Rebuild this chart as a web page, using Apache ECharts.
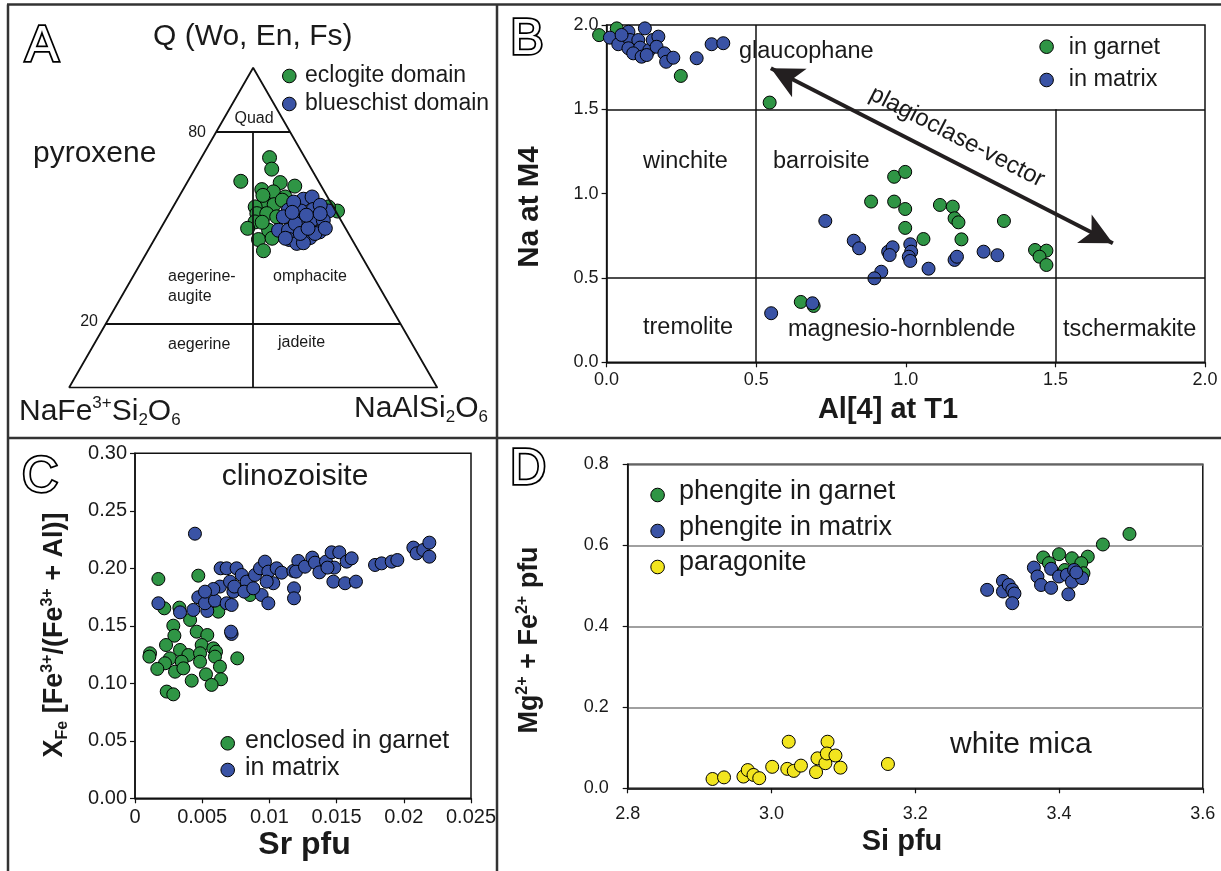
<!DOCTYPE html>
<html><head><meta charset="utf-8">
<script src="https://cdn.jsdelivr.net/npm/echarts@6/dist/echarts.min.js"></script>
<style>html,body{margin:0;padding:0;background:#fff}#c{width:1221px;height:871px}</style>
</head><body><div id="c"></div>
<script>
// ---------- Panel A: pyroxene ternary (Q %, Jd %) ----------
const eclogiteQ  = [71.9,68.3,64.5,64.1,63.0,61.9,61.2,59.6,58.0,56.5,57.2,54.4,54.4,53.4,51.8,49.8,49.2,46.3,42.8,55.2,56.5,60.1,58.6,55.5,51.7,46.7];
const eclogiteJd = [18.5,20.9,14.4,25.3,29.8,21.4,24.9,28.9,24.1,22.3,27.1,23.8,26.5,29.7,24.6,23.6,29.6,28.3,31.4,45.3,42.2,22.6,28.6,32.3,26.6,31.8];
const blueschistQ  = [58.9,59.6,55.5,55.2,55.7,55.2,57.0,51.3,52.6,52.3,49.2,49.2,48.7,46.9,46.3,45.1,45.3,51.3,53.4,58.0,48.2,48.2,54.4,49.8,46.7,49.8,53.9,54.8];
const blueschistJd = [34.2,36.2,31.8,35.4,38.5,42.9,39.7,37.6,39.8,42.9,32.3,35.0,43.7,42.0,36.7,39.3,41.0,35.8,31.5,32.0,42.7,38.7,41.0,40.0,35.4,44.7,37.5,33.2];

// ---------- Panel B: amphibole [Al(IV) at T1, Na at M4] ----------
const amphGarnet = [[-0.025,1.94],[0.034,1.98],[0.248,1.698],[0.545,1.54],[0.961,1.10],[0.998,1.129],[0.884,0.953],[0.961,0.953],[0.998,0.909],[1.114,0.933],[1.157,0.923],[1.163,0.854],[1.176,0.830],[1.328,0.838],[0.998,0.797],[1.059,0.731],[1.186,0.729],[1.432,0.666],[1.470,0.662],[1.447,0.626],[1.470,0.577],[0.649,0.358],[0.692,0.334]];
const amphMatrix = [[0.011,1.925],[0.039,1.886],[0.073,1.960],[0.078,1.911],[0.073,1.862],[0.106,1.911],[0.128,1.980],[0.112,1.866],[0.089,1.832],[0.117,1.812],[0.143,1.852],[0.154,1.911],[0.173,1.931],[0.167,1.871],[0.193,1.832],[0.199,1.782],[0.223,1.806],[0.301,1.803],[0.351,1.886],[0.390,1.892],[0.050,1.941],[0.134,1.822],
  [0.731,0.838],[0.826,0.721],[0.844,0.676],[0.941,0.656],[0.956,0.682],[0.946,0.636],[1.015,0.700],[1.018,0.656],[1.010,0.626],[1.015,0.601],[1.076,0.555],[0.918,0.537],[0.895,0.498],[1.163,0.607],[1.171,0.626],[1.260,0.656],[1.306,0.635],[0.688,0.350],[0.550,0.291]];

// ---------- Panel C: clinozoisite [Sr pfu, XFe] ----------
const czoGarnet = [[0.00174,0.1907],[0.00471,0.1936],[0.00218,0.1652],[0.0033,0.1658],[0.0041,0.1551],[0.00285,0.1501],[0.00459,0.1449],[0.00538,0.1420],[0.00293,0.1414],[0.00231,0.1333],[0.00335,0.1290],[0.00397,0.1246],[0.00496,0.1333],[0.00484,0.1261],[0.00583,0.1304],[0.00603,0.1275],[0.00112,0.1261],[0.00107,0.1232],[0.0026,0.1217],[0.00347,0.1188],[0.00223,0.1174],[0.00484,0.1188],[0.00595,0.1232],[0.00761,0.1217],[0.00632,0.1145],[0.00166,0.1125],[0.00298,0.1101],[0.0036,0.113],[0.00528,0.1078],[0.0064,0.1035],[0.00422,0.1023],[0.0057,0.0986],[0.00236,0.0928],[0.00285,0.0904],[0.0062,0.1623],[0.00856,0.1768]];
const czoMatrix = [[0.00446,0.2301],[0.00174,0.1696],[0.00335,0.1617],[0.00434,0.1638],[0.00471,0.1748],[0.00538,0.1629],[0.00521,0.1696],[0.00595,0.1719],[0.00632,0.1841],[0.00583,0.1820],[0.00637,0.2000],[0.00682,0.2000],[0.00756,0.2000],[0.00707,0.1884],[0.00732,0.1797],[0.00682,0.1696],[0.00719,0.1681],[0.00739,0.1841],[0.00794,0.1942],[0.00831,0.1884],[0.00813,0.1797],[0.00893,0.1942],[0.0093,0.2000],[0.00967,0.2058],[0.00992,0.1971],[0.00942,0.1768],[0.00992,0.1696],[0.0088,0.1826],[0.01029,0.1870],[0.0098,0.1884],[0.01054,0.2000],[0.01091,0.1962],[0.01178,0.1977],[0.01183,0.1826],[0.01183,0.1739],[0.01215,0.2064],[0.01198,0.1971],[0.01265,0.2014],[0.01319,0.2093],[0.01339,0.2049],[0.01372,0.1965],[0.01421,0.2058],[0.01463,0.2139],[0.0152,0.2139],[0.01476,0.1884],[0.01483,0.2006],[0.01432,0.2006],[0.01563,0.1870],[0.01644,0.1884],[0.01575,0.2058],[0.01612,0.2087],[0.01786,0.2029],[0.01835,0.2043],[0.0191,0.2058],[0.01952,0.2072],[0.02071,0.2180],[0.02096,0.2130],[0.02145,0.2159],[0.0219,0.2223],[0.0219,0.2101],[0.00719,0.1429],[0.00714,0.1449],[0.00521,0.1797]];

// ---------- Panel D: white mica [Si pfu, Mg+Fe2+ pfu] ----------
const phenGarnet = [[3.498,0.628],[3.461,0.602],[3.440,0.572],[3.418,0.568],[3.400,0.578],[3.378,0.570],[3.386,0.556],[3.431,0.556],[3.434,0.531],[3.408,0.539]];
const phenMatrix = [[3.300,0.490],[3.322,0.512],[3.322,0.486],[3.330,0.502],[3.335,0.490],[3.338,0.481],[3.335,0.457],[3.365,0.545],[3.370,0.523],[3.375,0.502],[3.389,0.542],[3.389,0.495],[3.400,0.523],[3.411,0.527],[3.421,0.539],[3.418,0.510],[3.432,0.519],[3.413,0.479],[3.424,0.533]];
const paragonite = [[2.918,0.023],[2.934,0.027],[2.961,0.029],[2.967,0.045],[2.975,0.033],[2.983,0.025],[3.001,0.053],[3.022,0.048],[3.024,0.115],[3.031,0.043],[3.041,0.056],[3.062,0.040],[3.064,0.074],[3.075,0.062],[3.078,0.115],[3.077,0.086],[3.089,0.081],[3.096,0.051],[3.162,0.060]];

// ---------- annotation constants ----------
const amphFieldLines = [[[0,1.5],[2,1.5]],[[0,0.5],[2,0.5]],[[0.5,0],[0.5,2]],[[1.5,0],[1.5,1.5]]];
const plagVector = [[0.549,1.743],[1.692,0.706]];
const ternaryLines = [[[80,0],[80,20]],[[20,0],[20,80]],[[80,10],[0,50]]]; // [Q,Jd] pairs

const GREEN = '#2f9545', BLUE = '#3a53a5', YELLOW = '#f2e51f';
const FONT = "'Liberation Sans', Arial, Helvetica, sans-serif";
const TXT = '#1a1a1a';

function tern(q, jd) { return [jd + q / 2, q]; }

const chart = echarts.init(document.getElementById('c'), null, {renderer: 'canvas'});

function dot(color, size) {
  return { symbol: 'circle', symbolSize: size, clip: false,
    itemStyle: { color: color, borderColor: '#000', borderWidth: 1, opacity: 1 } };
}
function axisBase() {
  return {
    type: 'value',
    axisLine: { show: true, onZero: false, lineStyle: { color: '#111', width: 1.5 } },
    axisTick: { show: true, length: 5, lineStyle: { color: '#111', width: 1.2 } },
    splitLine: { show: false }
  };
}
function T(x, y, text, fs, opts) {
  opts = opts || {};
  return { type: 'text', x: x, y: y, rotation: opts.rot || 0, z: 100,
    style: { text: text, fontSize: fs, fontFamily: FONT, fontWeight: opts.bold ? 'bold' : 'normal',
      fill: opts.fill || TXT, align: opts.align || 'left', verticalAlign: 'middle',
      rich: opts.rich } };
}
function C(cx, cy, color, r) {
  return { type: 'circle', z: 100, shape: { cx: cx, cy: cy, r: r || 6.8 },
    style: { fill: color, stroke: '#000', lineWidth: 1 } };
}
function L(x1, y1, x2, y2) {
  return { type: 'line', z: 100, shape: { x1: x1, y1: y1, x2: x2, y2: y2 },
    style: { stroke: '#333', lineWidth: 2.5 } };
}
function letter(x, y, ch) {
  return { type: 'text', x: x, y: y, z: 100,
    style: { text: ch, fontSize: 50, fontFamily: FONT, fill: '#fff', stroke: '#000', lineWidth: 3.5,
      align: 'center', verticalAlign: 'middle' } };
}
function chemRich(base, bold) {
  const w = bold ? 'bold' : 'normal';
  const s = Math.round(base * 0.58);
  return {
    b: { fontSize: base, fontFamily: FONT, fontWeight: w, lineHeight: base + 4, fill: TXT, color: TXT },
    sup: { fontSize: s, fontFamily: FONT, fontWeight: w, lineHeight: s, verticalAlign: 'top', fill: TXT, color: TXT },
    sub: { fontSize: s, fontFamily: FONT, fontWeight: w, lineHeight: s, verticalAlign: 'bottom', fill: TXT, color: TXT }
  };
}
function lab(fs, margin, fmt) {
  return { fontSize: fs, color: TXT, fontFamily: FONT, margin: margin, formatter: fmt };
}

const option = {
  animation: false,
  backgroundColor: '#fff',
  textStyle: { fontFamily: FONT },
  grid: [
    { left: 69, top: 67.7, width: 368.3, height: 320, show: false },
    { left: 606.6, top: 25, width: 598.4, height: 337.3, show: true, borderColor: '#111', borderWidth: 1.5 },
    { left: 135, top: 453.3, width: 336, height: 345, show: true, borderColor: '#111', borderWidth: 1.5 },
    { left: 627.7, top: 464.3, width: 575.1, height: 324, show: true, borderColor: '#111', borderWidth: 1.5 }
  ],
  xAxis: [
    { gridIndex: 0, type: 'value', min: 0, max: 100, show: false },
    Object.assign(axisBase(), { gridIndex: 1, min: 0, max: 2, interval: 0.5, axisLabel: lab(18, 9, v => v.toFixed(1)) }),
    Object.assign(axisBase(), { gridIndex: 2, min: 0, max: 0.025, interval: 0.005,
      axisLabel: lab(20, 9, v => v === 0 ? '0' : String(parseFloat(v.toFixed(3)))) }),
    Object.assign(axisBase(), { gridIndex: 3, min: 2.8, max: 3.6, interval: 0.2, axisLabel: lab(18, 17, v => v.toFixed(1)) })
  ],
  yAxis: [
    { gridIndex: 0, type: 'value', min: 0, max: 100, show: false },
    Object.assign(axisBase(), { gridIndex: 1, min: 0, max: 2, interval: 0.5, axisLabel: lab(18, 8, v => v.toFixed(1)) }),
    Object.assign(axisBase(), { gridIndex: 2, min: 0, max: 0.3, interval: 0.05, axisLabel: lab(20, 8, v => v.toFixed(2)) }),
    Object.assign(axisBase(), { gridIndex: 3, min: 0, max: 0.8, interval: 0.2, axisLabel: lab(18, 19, v => v.toFixed(1)),
      splitLine: { show: true, lineStyle: { color: '#808080', width: 1.5 } } })
  ],
  series: [
    // Panel A triangle and field boundaries
    { type: 'line', xAxisIndex: 0, yAxisIndex: 0, silent: true, symbol: 'none',
      lineStyle: { color: '#111', width: 1.8 },
      data: [tern(0, 0), tern(100, 0), tern(0, 100), tern(0, 0)],
      markLine: { silent: true, symbol: ['none', 'none'], label: { show: false },
        lineStyle: { color: '#111', width: 1.8, type: 'solid' },
        data: ternaryLines.map(seg => [{ coord: tern(seg[0][0], seg[0][1]) }, { coord: tern(seg[1][0], seg[1][1]) }]) } },
    Object.assign({ type: 'scatter', name: 'eclogite domain', xAxisIndex: 0, yAxisIndex: 0,
      data: eclogiteQ.map((q, i) => tern(q, eclogiteJd[i])) }, dot(GREEN, 14)),
    Object.assign({ type: 'scatter', name: 'blueschist domain', xAxisIndex: 0, yAxisIndex: 0,
      data: blueschistQ.map((q, i) => tern(q, blueschistJd[i])) }, dot(BLUE, 14)),

    // Panel B field lines and plagioclase vector
    { type: 'line', xAxisIndex: 1, yAxisIndex: 1, silent: true, data: [],
      markLine: { silent: true, symbol: ['none', 'none'], label: { show: false },
        lineStyle: { color: '#111', width: 1.5, type: 'solid' },
        data: amphFieldLines.map(s => [{ coord: s[0] }, { coord: s[1] }]) } },
    { type: 'line', xAxisIndex: 1, yAxisIndex: 1, silent: true, data: [], z: 5,
      markLine: { silent: true, symbol: ['arrow', 'arrow'], symbolSize: [24, 32], label: { show: false },
        lineStyle: { color: '#231f20', width: 4, type: 'solid' }, itemStyle: { color: '#231f20' },
        data: [[{ coord: plagVector[0] }, { coord: plagVector[1] }]] } },
    Object.assign({ type: 'scatter', name: 'in garnet', xAxisIndex: 1, yAxisIndex: 1, data: amphGarnet, z: 3 }, dot(GREEN, 13)),
    Object.assign({ type: 'scatter', name: 'in matrix', xAxisIndex: 1, yAxisIndex: 1, data: amphMatrix, z: 4 }, dot(BLUE, 13)),

    // Panel C
    Object.assign({ type: 'scatter', name: 'enclosed in garnet', xAxisIndex: 2, yAxisIndex: 2, data: czoGarnet, z: 3 }, dot(GREEN, 13)),
    Object.assign({ type: 'scatter', name: 'in matrix', xAxisIndex: 2, yAxisIndex: 2, data: czoMatrix, z: 4 }, dot(BLUE, 13)),

    // Panel D
    Object.assign({ type: 'scatter', name: 'phengite in garnet', xAxisIndex: 3, yAxisIndex: 3, data: phenGarnet, z: 3 }, dot(GREEN, 13)),
    Object.assign({ type: 'scatter', name: 'phengite in matrix', xAxisIndex: 3, yAxisIndex: 3, data: phenMatrix, z: 4 }, dot(BLUE, 13)),
    Object.assign({ type: 'scatter', name: 'paragonite', xAxisIndex: 3, yAxisIndex: 3, data: paragonite, z: 4 }, dot(YELLOW, 13))
  ],
  graphic: [
    // figure frame
    L(7, 4.5, 1221, 4.5), L(8, 4.5, 8, 871), L(497, 4.5, 497, 871), L(8, 438, 1221, 438),

    // Panel A
    letter(42, 47, 'A'),
    T(153, 37, 'Q (Wo, En, Fs)', 30),
    C(289.3, 76, GREEN), T(305, 76, 'eclogite domain', 23),
    C(289.3, 104, BLUE), T(305, 104, 'blueschist domain', 23),
    T(33, 154, 'pyroxene', 30),
    T(254, 119, 'Quad', 16, { align: 'center' }),
    T(206, 133, '80', 16, { align: 'right' }),
    T(98, 322, '20', 16, { align: 'right' }),
    T(168, 277, 'aegerine-', 16), T(168, 297, 'augite', 16),
    T(273, 277, 'omphacite', 16),
    T(168, 345, 'aegerine', 16),
    T(278, 343, 'jadeite', 16),
    T(19, 412, '{b|NaFe}{sup|3+}{b|Si}{sub|2}{b|O}{sub|6}', 30, { rich: chemRich(30) }),
    T(354, 409, '{b|NaAlSi}{sub|2}{b|O}{sub|6}', 30, { rich: chemRich(30) }),

    // Panel B
    letter(527, 40, 'B'),
    T(739, 52, 'glaucophane', 23.5),
    C(1046.6, 46.7, GREEN), T(1068.7, 48, 'in garnet', 23.5),
    C(1046.6, 80, BLUE), T(1068.7, 80, 'in matrix', 23.5),
    T(643, 162, 'winchite', 23.5), T(773, 162, 'barroisite', 23.5),
    T(643, 328, 'tremolite', 23.5), T(788, 330, 'magnesio-hornblende', 23.5), T(1063, 330, 'tschermakite', 23.5),
    T(957, 137, 'plagioclase-vector', 24, { align: 'center', rot: -27.3 * Math.PI / 180 }),
    T(888, 410, 'Al[4] at T1', 29, { align: 'center', bold: true }),
    T(530, 207, 'Na at M4', 29.5, { align: 'center', bold: true, rot: Math.PI / 2 }),

    // Panel C
    letter(40, 478, 'C'),
    T(295, 477, 'clinozoisite', 30, { align: 'center' }),
    C(227.7, 743.3, GREEN), T(245, 741, 'enclosed in garnet', 25),
    C(227.7, 770, BLUE), T(245, 768, 'in matrix', 25),
    T(304.5, 845, 'Sr pfu', 32, { align: 'center', bold: true }),
    T(55, 635, '{b|X}{sub|Fe}{b| [Fe}{sup|3+}{b|/(Fe}{sup|3+}{b| + Al)]}', 27,
      { align: 'center', rot: Math.PI / 2, rich: chemRich(27, true) }),

    // Panel D
    letter(528, 470, 'D'),
    C(657.6, 495, GREEN), T(679, 492, 'phengite in garnet', 27),
    C(657.6, 531, BLUE), T(679, 528, 'phengite in matrix', 27),
    C(657.6, 567, YELLOW), T(679, 563, 'paragonite', 27),
    T(950, 745, 'white mica', 30),
    T(902, 842, 'Si pfu', 29, { align: 'center', bold: true }),
    T(530, 640, '{b|Mg}{sup|2+}{b| + Fe}{sup|2+}{b| pfu}', 27,
      { align: 'center', rot: Math.PI / 2, rich: chemRich(27, true) })
  ]
};
chart.setOption(option);
</script></body></html>
